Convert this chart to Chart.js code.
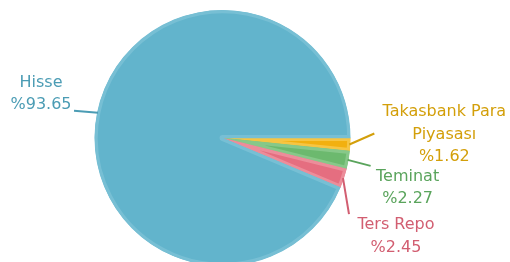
<!DOCTYPE html>
<html>
<head>
<meta charset="utf-8">
<script src="https://cdn.jsdelivr.net/npm/chart.js@4"></script>
<style>
  html, body { margin: 0; padding: 0; background: #fff; }
  #wrap { width: 510px; height: 262px; }
</style>
</head>
<body>
<div id="wrap"><canvas id="chart" width="510" height="262"></canvas></div>
<script>
const labels = ['Takasbank Para Piyasası', 'Teminat', 'Ters Repo', 'Hisse'];
const values = [1.62, 2.27, 2.45, 93.65];
const labelLines = [['Takasbank Para', 'Piyasası'], ['Teminat'], ['Ters Repo'], ['Hisse']];

const fills = ['#f2b00f', '#6cb96e', '#e56e80', '#62b4cc'];
const bands = ['#f6c543', '#87c889', '#ec8d9a', '#77bfd4'];
const textColors = ['#d39f0a', '#5aa45c', '#d25e71', '#4b9cb4'];

// leader end offset from slice edge, then text offset from leader end (first baseline)
const placement = [
  { lx: 25, ly: -11, tx: 70, ty: -17 },
  { lx: 23, ly: 6, tx: 37, ty: 15 },
  { lx: 6, ly: 36, tx: 47, ty: 15 },
  { lx: -24, ly: -2, tx: -33, ty: -24 }
];

const pieLabels = {
  id: 'pieLabels',
  afterDraw(chart) {
    const ctx = chart.ctx;
    const arcs = chart.getDatasetMeta(0).data;
    ctx.save();
    ctx.font = '16px "DejaVu Sans"';
    ctx.textAlign = 'center';
    ctx.textBaseline = 'alphabetic';
    arcs.forEach((arc, i) => {
      const p = arc.getProps(['x', 'y', 'startAngle', 'endAngle', 'outerRadius'], true);
      const mid = (p.startAngle + p.endAngle) / 2;
      const sx = p.x + Math.cos(mid) * (p.outerRadius - 1);
      const sy = p.y + Math.sin(mid) * (p.outerRadius - 1);
      const pl = placement[i];
      const ex = sx + pl.lx, ey = sy + pl.ly;
      ctx.strokeStyle = textColors[i];
      ctx.lineWidth = 2;
      ctx.beginPath();
      ctx.moveTo(sx, sy);
      ctx.lineTo(ex, ey);
      ctx.stroke();
      ctx.fillStyle = textColors[i];
      const lines = labelLines[i].concat(['%' + values[i].toFixed(2)]);
      lines.forEach((t, k) => {
        ctx.fillText(t, ex + pl.tx, ey + pl.ty + k * 22.5);
      });
    });
    ctx.restore();
  }
};

new Chart(document.getElementById('chart'), {
  type: 'pie',
  data: {
    labels: labels,
    datasets: [{
      data: values,
      backgroundColor: fills,
      borderColor: bands,
      borderWidth: 3,
      borderAlign: 'inner',
      radius: 128
    }]
  },
  options: {
    responsive: false,
    animation: false,
    rotation: 90,
    layout: { padding: { left: 0, right: 65, top: 14, bottom: 0 } },
    plugins: {
      legend: { display: false },
      tooltip: { enabled: false }
    }
  },
  plugins: [pieLabels]
});
</script>
</body>
</html>
